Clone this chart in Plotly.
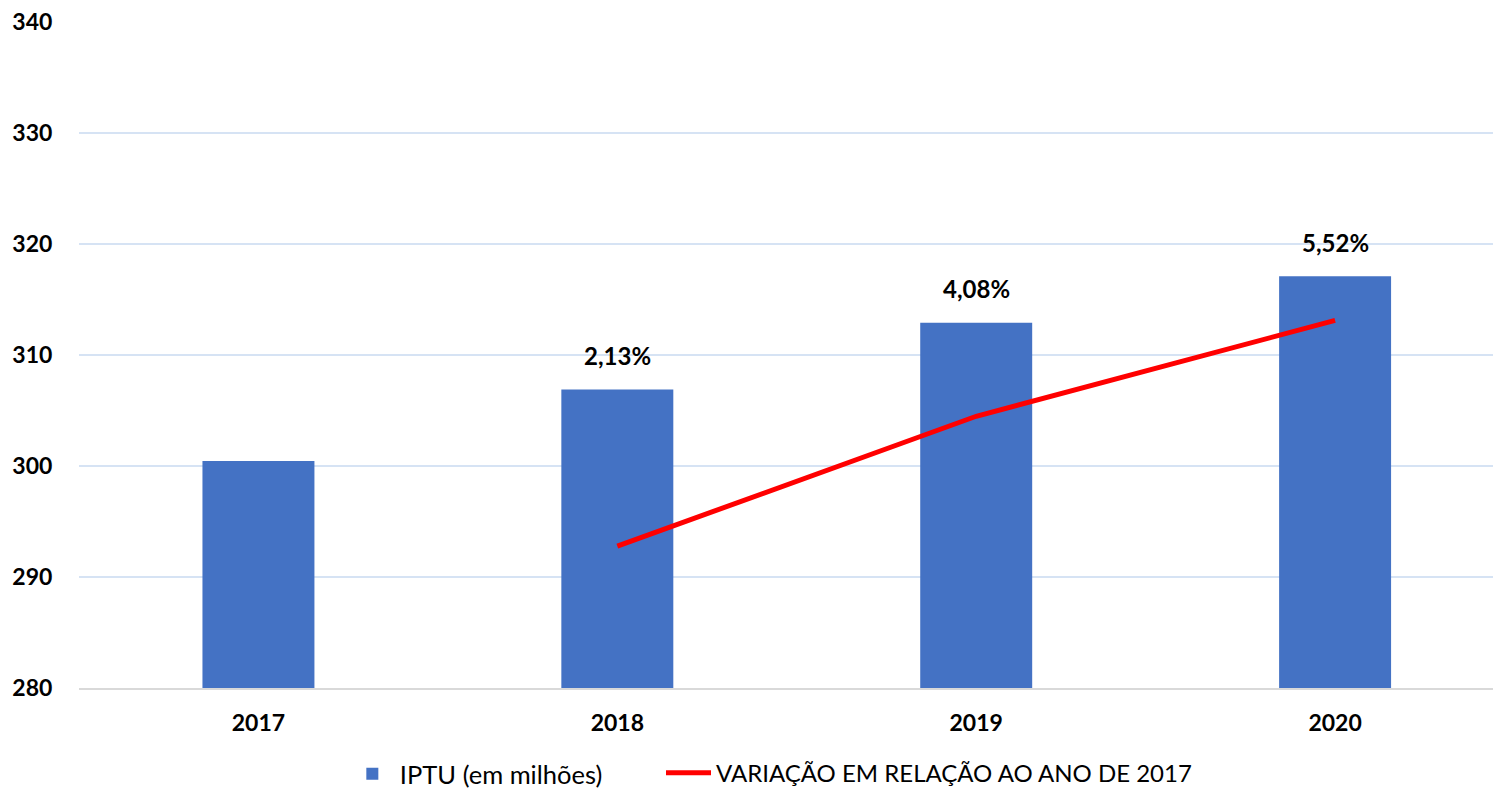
import plotly.graph_objects as go

years = ["2017", "2018", "2019", "2020"]
iptu = [300.45, 306.9, 312.9, 317.1]
var_years = ["2018", "2019", "2020"]
variacao = [2.13, 4.08, 5.52]
var_labels = ["2,13%", "4,08%", "5,52%"]

FONT = "Lato"

fig = go.Figure()
fig.add_trace(go.Bar(
    x=years, y=iptu, name="IPTU (em milhões)",
    marker=dict(color="#4472C4", line=dict(width=0)),
    yaxis="y", legend="legend",
))
fig.add_trace(go.Scatter(
    x=var_years, y=variacao, name="VARIAÇÃO EM RELAÇÃO AO ANO DE 2017",
    mode="lines", line=dict(color="#FF0000", width=5),
    yaxis="y2", legend="legend2",
))

# percentage labels above the bars (category index used for x position)
for yr, lab in zip(var_years, var_labels):
    i = years.index(yr)
    fig.add_annotation(
        x=i, y=iptu[i], xref="x", yref="y",
        text=lab, showarrow=False, yshift=34,
        font=dict(family=FONT, size=24, color="#000000", weight="bold"),
    )

fig.update_layout(
    width=1493, height=791,
    margin=dict(l=79, r=0, t=22, b=103, autoexpand=False),
    plot_bgcolor="white", paper_bgcolor="white",
    bargap=0.688,
    showlegend=True,
    legend=dict(
        orientation="h", x=0.188, xanchor="left", y=-0.094, yanchor="top",
        font=dict(family=FONT, size=25.5, color="#000000"),
        itemwidth=45,
    ),
    legend2=dict(
        orientation="h", x=0.4116, xanchor="left", y=-0.094, yanchor="top",
        font=dict(family=FONT, size=24, color="#000000"),
        itemwidth=45,
    ),
    xaxis=dict(
        type="category", range=[-0.5, 3.44], automargin=False,
        showline=True, linecolor="#D9D9D9", linewidth=1.5,
        showgrid=False, ticks="outside", ticklen=14, tickcolor="rgba(0,0,0,0)",
        tickfont=dict(family=FONT, size=23, color="#000000", weight="bold"),
    ),
    yaxis=dict(
        range=[280, 340], dtick=10, tick0=280, automargin=False,
        showgrid=True, gridcolor="#D6E3F4", gridwidth=1.5,
        zeroline=False, showline=False,
        ticks="outside", ticklen=21, tickcolor="rgba(0,0,0,0)",
        tickfont=dict(family=FONT, size=23, color="#000000", weight="bold"),
    ),
    yaxis2=dict(
        range=[0, 10], overlaying="y", side="right", visible=False,
        showgrid=False, zeroline=False,
    ),
)

fig.write_html(
    "out.html",
    config={"displayModeBar": False},
    post_script="document.body.style.margin='0';document.body.style.padding='0';",
)
